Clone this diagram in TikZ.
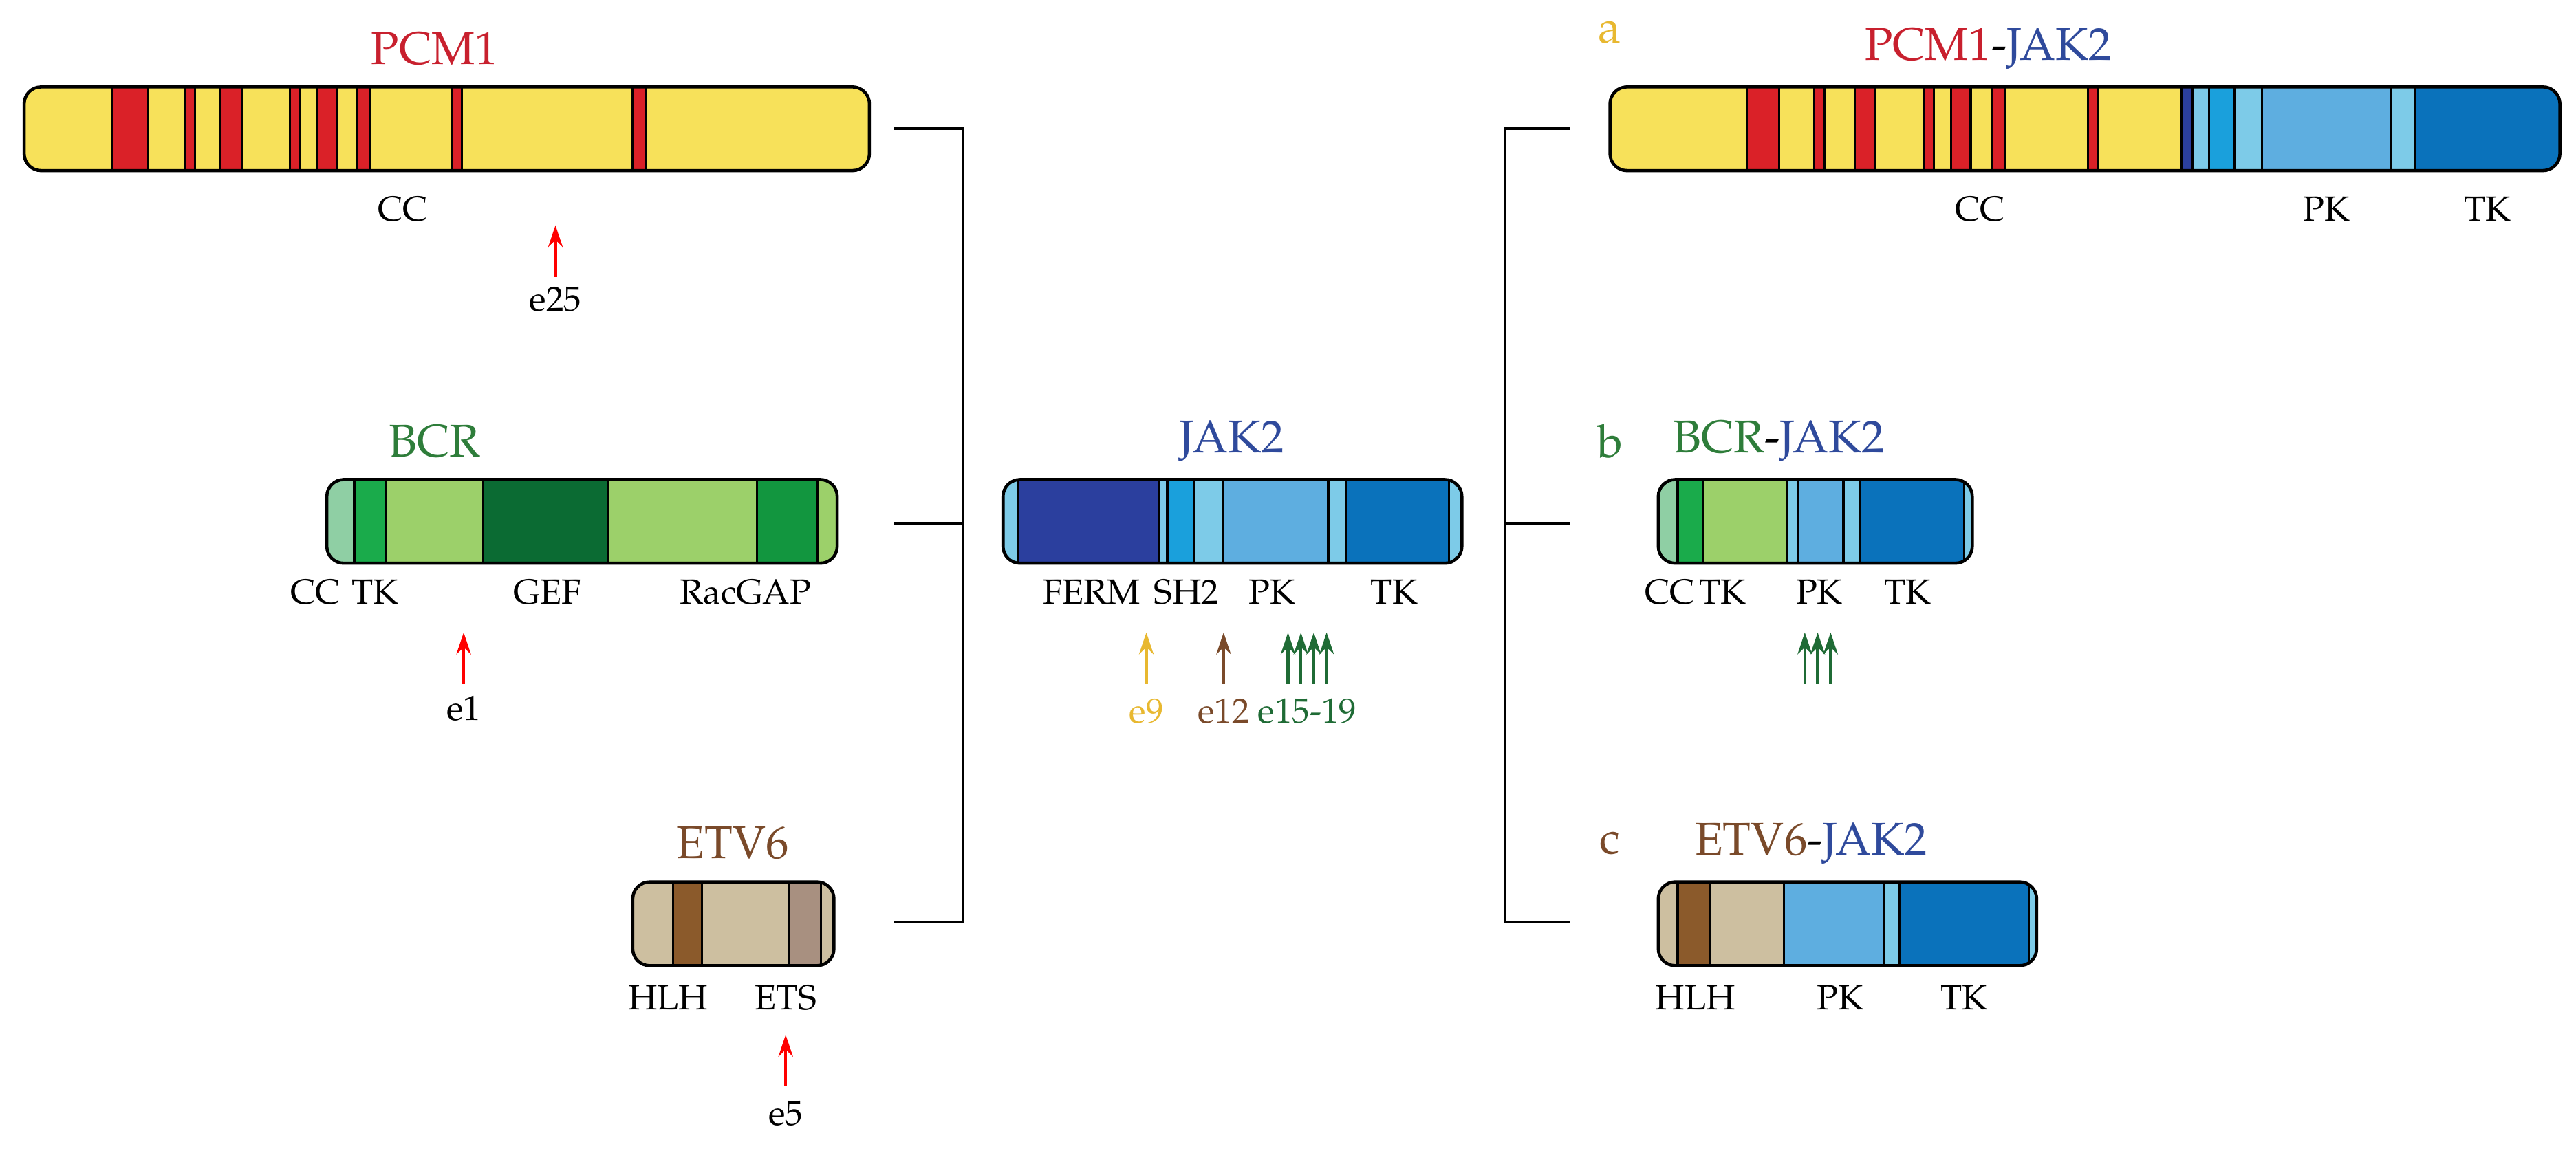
\documentclass[tikz,border=0pt]{standalone}
\usepackage{fontspec}
\setmainfont{TeX Gyre Pagella}
\usetikzlibrary{arrows.meta}
\definecolor{pcmred}{HTML}{C8202E}
\definecolor{ylw}{HTML}{F7E15A}
\definecolor{bred}{HTML}{DA2128}
\definecolor{bcrg}{HTML}{2E7D3A}
\definecolor{teal}{HTML}{8FCFA4}
\definecolor{gmid}{HTML}{1AAB4B}
\definecolor{glt}{HTML}{9CD06A}
\definecolor{gdk}{HTML}{0B6B33}
\definecolor{gdk2}{HTML}{12963F}
\definecolor{tan}{HTML}{CDBFA0}
\definecolor{brn}{HTML}{8B5A2B}
\definecolor{gbr}{HTML}{A89080}
\definecolor{etvc}{HTML}{7A4A2A}
\definecolor{jakc}{HTML}{2F4A9C}
\definecolor{jlt}{HTML}{7DCBE8}
\definecolor{jdk}{HTML}{2B3F9E}
\definecolor{jsh}{HTML}{1AA0DC}
\definecolor{jpk}{HTML}{5EAEE0}
\definecolor{jtk}{HTML}{0A72BB}
\definecolor{ylab}{HTML}{E8B830}
\definecolor{grn}{HTML}{1F6B35}
\newcommand\protbar[4]{%
\begin{scope}
\clip[rounded corners=7pt] (#1,#3) rectangle (#2,#3+52);
\foreach \a/\b/\c in {#4}{\fill[\c] (\a,#3) rectangle (\b,#3+52);
\draw[line width=0.9pt] (\a,#3)--(\a,#3+52) (\b,#3)--(\b,#3+52);}
\end{scope}
\draw[line width=1.3pt, rounded corners=7pt] (#1,#3) rectangle (#2,#3+52);}
\begin{document}
\begin{tikzpicture}[x=0.0234cm,y=-0.0234cm,
 ttl/.style={font=\fontsize{19}{20}\selectfont},
 lab/.style={font=\fontsize{14.5}{15}\selectfont},
 mut/.style={-{Stealth[length=9pt,width=6pt]},line width=1.2pt},
 br/.style={line width=1.1pt}]
\useasboundingbox[fill=white] (0,0) rectangle (1600,722);
% PCM1
\node[ttl,text=pcmred] (tpcm) at (270,30) {PCM1};
\protbar{15}{540}{54}{15/540/ylw,70/92/bred,115/121/bred,137/150/bred,180/186/bred,197/209/bred,222/230/bred,281/287/bred,393/401/bred}
\node[lab] (lcc1) at (250,130) {CC};
\coordinate (a25s) at (345,172); \coordinate (a25e) at (345,140);
\draw[mut,red] (a25s)--(a25e);
\node[lab] (e25) at (345,186) {e25};
% BCR
\node[ttl,text=bcrg] (tbcr) at (270,274) {BCR};
\protbar{203}{520}{298}{203/520/glt,203/220/teal,220/240/gmid,300/378/gdk,470/508/gdk2}
\node[lab] (lcc2) at (196,368) {CC}; \node[lab] (ltk2) at (233,368) {TK};
\node[lab] (lgef) at (340,368) {GEF}; \node[lab] (lrac) at (463,368) {RacGAP};
\draw[mut,red] (288,425)--(288,393);
\node[lab] (e1) at (288,440) {e1};
% ETV6
\node[ttl,text=etvc] (tetv) at (455,524) {ETV6};
\protbar{393}{518}{548}{393/518/tan,418/436/brn,490/510/gbr}
\node[lab] (lhlh) at (415,620) {HLH}; \node[lab] (lets) at (488,620) {ETS};
\draw[mut,red] (488,675)--(488,643);
\node[lab] (e5) at (488,692) {e5};
% brackets
\coordinate (l1) at (555,80); \coordinate (l2) at (555,325); \coordinate (l3) at (555,573);
\coordinate (v1) at (598,80); \coordinate (v2) at (598,325); \coordinate (v3) at (598,573);
\draw[br] (l1)--(v1)--(v3)--(l3) (l2)--(v2);
\coordinate (r1) at (975,80); \coordinate (r2) at (975,325); \coordinate (r3) at (975,573);
\coordinate (w1) at (935,80); \coordinate (w2) at (935,325); \coordinate (w3) at (935,573);
\draw[br] (r1)--(w1)--(w3)--(r3) (w2)--(r2);
% JAK2
\node[ttl,text=jakc] (tjak) at (765,274) {JAK2};
\protbar{623}{908}{298}{623/908/jlt,632/720/jdk,725/742/jsh,760/825/jpk,836/900/jtk}
\node[lab] (lferm) at (678,368) {FERM}; \node[lab] (lsh2) at (737,368) {SH2};
\node[lab] (lpk) at (790,368) {PK}; \node[lab] (ltk) at (866,368) {TK};
\draw[mut,ylab] (712,425)--(712,393);
\draw[mut,etvc] (760,425)--(760,393);
\foreach \x in {800,808,816,824}{\draw[mut,grn] (\x,425)--(\x,393);}
\node[lab,text=ylab] (e9) at (712,442) {e9};
\node[lab,text=etvc] (e12) at (760,442) {e12};
\node[lab,text=grn] (e15) at (812,442) {e15-19};
% a
\node[ttl,text=ylab] (la) at (1000,20) {a};
\node[ttl] (tpj) at (1235,30) {\textcolor{pcmred}{PCM1}-\textcolor{jakc}{JAK2}};
\protbar{1000}{1590}{54}{1000/1355/ylw,1085/1105/bred,1127/1133/bred,1152/1165/bred,1195/1201/bred,1212/1224/bred,1237/1245/bred,1297/1303/bred,1355/1362/jdk,1362/1372/jlt,1372/1388/jsh,1388/1405/jlt,1405/1485/jpk,1485/1500/jlt,1500/1590/jtk}
\draw[line width=1.3pt] (1355,54)--(1355,106);
\node[lab] (lcca) at (1230,130) {CC}; \node[lab] (lpka) at (1445,130) {PK}; \node[lab] (ltka) at (1545,130) {TK};
% b
\node[ttl,text=bcrg] (lb) at (1000,274) {b};
\node[ttl] (tbj) at (1105,274) {\textcolor{bcrg}{BCR}-\textcolor{jakc}{JAK2}};
\protbar{1030}{1225}{298}{1030/1225/jlt,1030/1042/teal,1042/1058/gmid,1058/1110/glt,1117/1145/jpk,1155/1220/jtk}
\node[lab] (lccb) at (1037,368) {CC}; \node[lab] (ltkb) at (1070,368) {TK};
\node[lab] (lpkb) at (1130,368) {PK}; \node[lab] (ltkb2) at (1185,368) {TK};
\foreach \x in {1121,1129,1137}{\draw[mut,grn] (\x,425)--(\x,393);}
% c
\node[ttl,text=etvc] (lc) at (1000,524) {c};
\node[ttl] (tej) at (1125,524) {\textcolor{etvc}{ETV6}-\textcolor{jakc}{JAK2}};
\protbar{1030}{1265}{548}{1030/1265/jlt,1030/1108/tan,1042/1062/brn,1108/1170/jpk,1180/1260/jtk}
\node[lab] (lhlhc) at (1053,620) {HLH}; \node[lab] (lpkc) at (1143,620) {PK}; \node[lab] (ltkc) at (1220,620) {TK};
\end{tikzpicture}
\end{document}
